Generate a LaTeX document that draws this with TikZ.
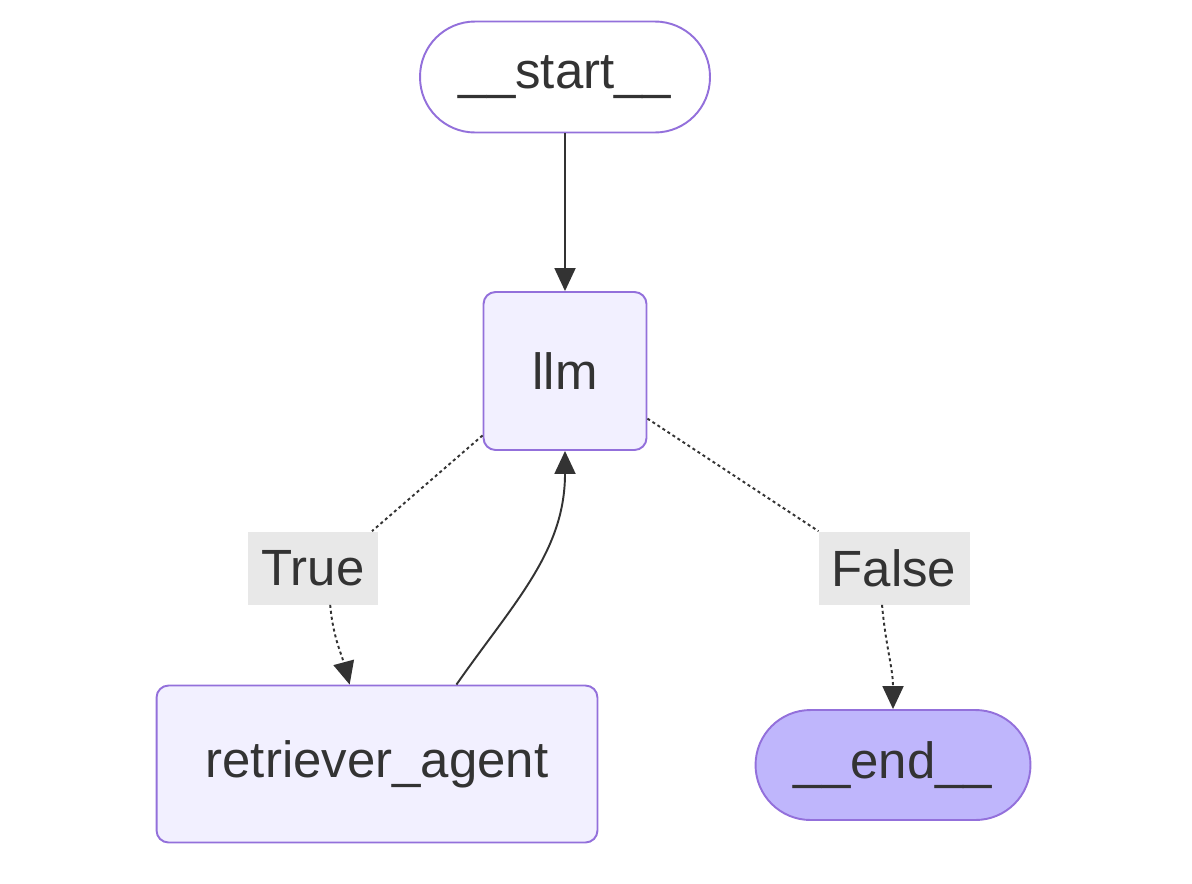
\documentclass[tikz,border=0pt]{standalone}
\usepackage{fontspec}
\setmainfont{Liberation Sans}
\usetikzlibrary{arrows.meta}
\definecolor{nodeborder}{HTML}{9370DB}
\definecolor{nodefill}{HTML}{F2F0FF}
\definecolor{endfill}{HTML}{BFB6FC}
\definecolor{labelfill}{HTML}{E8E8E8}
\definecolor{inkgray}{HTML}{333333}

\begin{document}
\begin{tikzpicture}[x=0.02cm, y=-0.02cm,
  font=\fontsize{29}{34}\selectfont, text=inkgray,
  graphnode/.style={draw=nodeborder, line width=1.1pt, fill=nodefill, rounded corners=0.24cm, inner sep=0pt},
  stadium/.style={draw=nodeborder, line width=1.1pt, rounded corners=1.1cm, inner sep=0pt, minimum height=2.2cm},
  edgelabel/.style={fill=labelfill, inner sep=0pt, minimum height=1.46cm},
  flow/.style={draw=inkgray, line width=1.1pt, -{Triangle[length=0.46cm, width=0.42cm]}},
  condflow/.style={draw=inkgray, line width=1.1pt, dash pattern=on 0.06cm off 0.06cm},
]
\useasboundingbox (0,0) rectangle (1192,883);
% nodes
\node [stadium, fill=white, minimum width=5.8cm, minimum height=2.22cm] (start) at (565,77) {\_\_start\_\_};
\node [graphnode, minimum width=3.26cm, minimum height=3.16cm] (llm) at (565,371) {llm};
\node [graphnode, minimum width=8.82cm, minimum height=3.14cm] (retriever) at (377,764) {retriever\_agent};
\node [stadium, fill=endfill, minimum width=5.5cm] (end) at (893,765) {\_\_end\_\_};
\node [edgelabel, minimum width=2.6cm] (true) at (313,568) {True};
\node [edgelabel, minimum width=3.02cm] (false) at (894,568) {False};
% edges
\draw [flow] (start) -- (llm);
\draw [condflow] (llm.218) -- (true.32);
\draw [condflow, -{Triangle[length=0.46cm, width=0.42cm]}] (true.-65) to[out=-85, in=105] (retriever.109);
\draw [flow] (retriever.45) to[out=55, in=-90] (llm.south);
\draw [condflow] (llm.-30) -- (false.154);
\draw [condflow, -{Triangle[length=0.46cm, width=0.42cm]}] (false.-108) to[out=-85, in=90] (end.north);
\end{tikzpicture}
\end{document}
